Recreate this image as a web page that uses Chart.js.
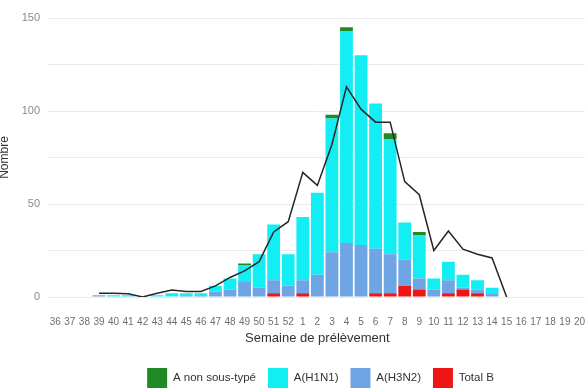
<!DOCTYPE html>
<html>
<head>
<meta charset="utf-8">
<script src="https://cdn.jsdelivr.net/npm/chart.js@4/dist/chart.umd.min.js"></script>
<style>
    html, body { margin: 0; padding: 0; background: #fff; overflow: hidden; }
    #wrap { position: absolute; left: -3px; top: 0; width: 591px; height: 388px; }
</style>
</head>
<body>
<div id="wrap"><canvas id="chart" width="591" height="388"></canvas></div>
<script>
// semaines 36 -> 52 puis 1 -> 20
const semaines = ["36","37","38","39","40","41","42","43","44","45","46","47","48","49","50","51","52",
    "1","2","3","4","5","6","7","8","9","10","11","12","13","14","15","16","17","18","19","20"];

// valeurs (empilées de bas en haut : B, H3N2, H1N1, non sous-typé)
const totalB     = [0,0,0,0,0,0,0,0,0,0,0,0,0,0,0,2,0, 2,0,0,0,0,2,2,6,4,0,2,4,2,0,0,0,0,0,0,0];
const aH3N2      = [0,0,0,1,0,0,0,0,0,1,1,3,4,8,5,7,6, 7,12,24,29,28,24,21,14,6,4,7,1,2,2,0,0,0,0,0,0];
const aH1N1      = [0,0,0,0,1,1,0,1,2,1,1,3,6,9,18,30,17, 34,44,72,114,102,78,62,20,23,6,10,7,5,3,0,0,0,0,0,0];
const aNonSousType = [0,0,0,0,0,0,0,0,0,0,0,0,0,1,0,0,0, 0,0,2,2,0,0,3,0,2,0,0,0,0,0,0,0,0,0,0,0];
// courbe noire
const courbe     = [null,null,null,2,2,1.8,0,2,3.8,3,3,6,10.5,14,19,35,40.5,
    67,60,82,113,101,94,94,62,55,25,35.5,25.7,23,21,0,null,null,null,null,null];

const yTicks = [0, 50, 100, 150];

const tickColor = "#8a8a8a";
const gridColor = "#ebebeb";
const police = "Liberation Sans, Arial, sans-serif";

// la légende est centrée un peu plus à droite que le canvas (image d'origine rognée)
const decalerLegende = {
    id: "decalerLegende",
    afterLayout(chart) {
        chart.legend.left += 28;
        chart.legend.right += 28;
    }
};

let ctx = document.getElementById("chart").getContext("2d");

let chart = new Chart(ctx, {
    type: "bar",
    data: {
        labels: semaines,
        datasets: [
            { label: "Total B", data: totalB, backgroundColor: "#ee1515", order: 1 },
            { label: "A(H3N2)", data: aH3N2, backgroundColor: "#6fa5e4", order: 1 },
            { label: "A(H1N1)", data: aH1N1, backgroundColor: "#13eef5", order: 1 },
            { label: "A non sous-typé", data: aNonSousType, backgroundColor: "#1f8a24", order: 1 },
            {
                type: "line",
                label: "courbe",
                data: courbe,
                stack: "ligne",
                borderColor: "#262626",
                borderWidth: 1.5,
                pointRadius: 0,
                tension: 0,
                spanGaps: false,
                order: 0
            }
        ]
    },
    options: {
        responsive: false,
        devicePixelRatio: 1,
        animation: false,
        datasets: {
            bar: { barPercentage: 0.88, categoryPercentage: 1 }
        },
        layout: { padding: { top: 18, right: 0, bottom: -10, left: 0 } },
        plugins: {
            tooltip: { enabled: false },
            legend: {
                position: "bottom",
                reverse: true,
                labels: {
                    filter: item => item.text !== "courbe",
                    boxWidth: 20,
                    boxHeight: 20,
                    padding: 12,
                    color: "#333",
                    font: { family: police, size: 11.5 }
                }
            }
        },
        scales: {
            x: {
                stacked: true,
                grid: {
                    display: true,
                    drawOnChartArea: false,
                    drawTicks: true,
                    tickLength: 16,
                    tickColor: "rgba(0,0,0,0)"
                },
                border: { display: false },
                ticks: {
                    autoSkip: false,
                    maxRotation: 0,
                    minRotation: 0,
                    padding: 3,
                    color: "#6e6e6e",
                    font: { family: police, size: 10 }
                },
                title: {
                    display: true,
                    text: "Semaine de prélèvement",
                    color: "#333",
                    padding: { top: 2, bottom: 10 },
                    font: { family: police, size: 13 }
                },
                afterFit: scale => { scale.height = 59; }
            },
            y: {
                stacked: true,
                min: 0,
                max: 150,
                grid: { color: gridColor, lineWidth: 1, drawTicks: false },
                border: { display: false },
                ticks: {
                    stepSize: 25,
                    padding: 8,
                    color: tickColor,
                    font: { family: police, size: 11 },
                    callback: value => yTicks.includes(value) ? value : ""
                },
                title: {
                    display: true,
                    text: "Nombre",
                    color: "#333",
                    padding: { top: 0, bottom: 4 },
                    font: { family: police, size: 12 }
                },
                afterFit: scale => { scale.width = 51; }
            }
        }
    },
    plugins: [decalerLegende]
});
</script>
</body>
</html>
